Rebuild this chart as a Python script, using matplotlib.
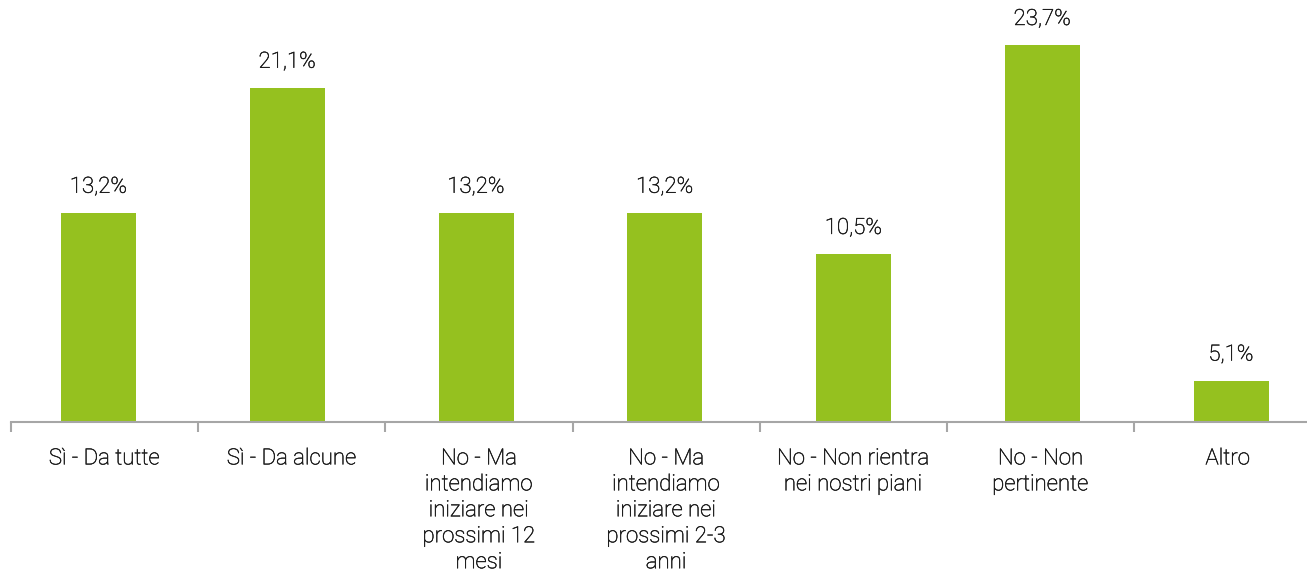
import matplotlib
matplotlib.use("Agg")
import matplotlib.pyplot as plt
import matplotlib.patheffects as pe

categories = [
    "Sì - Da tutte",
    "Sì - Da alcune",
    "No - Ma\nintendiamo\niniziare nei\nprossimi 12\nmesi",
    "No - Ma\nintendiamo\niniziare nei\nprossimi 2-3\nanni",
    "No - Non rientra\nnei nostri piani",
    "No - Non\npertinente",
    "Altro",
]
# bar heights as drawn in the picture (the "Altro" bar is drawn shorter than its label)
bar_values = [13.2, 21.1, 13.2, 13.2, 10.6, 23.8, 2.6]
value_labels = ["13,2%", "21,1%", "13,2%", "13,2%", "10,5%", "23,7%", "5,1%"]

plt.rcParams['font.family'] = ['Roboto', 'DejaVu Sans']
W, H = 1307, 577
fig = plt.figure(figsize=(W / 100, H / 100), dpi=100)

bar_step = 188.75      # px between bar centres
tick_step = 187.2      # px between category boundary ticks
x0_px = 11             # axis start
first_center_px = 98.5
px_per_unit = 15.83
ymax = 26.0

left_unit = (x0_px - first_center_px) / bar_step
right_unit = left_unit + (W - x0_px) / bar_step

ax = fig.add_axes([x0_px / W, (H - 422) / H, (W - x0_px) / W, ymax * px_per_unit / H])

green = "#95C11F"
text_color = "#1a1a1a"
effects = [pe.withStroke(linewidth=0.35, foreground=text_color)]
n = len(categories)
x = list(range(n))
ax.bar(x, bar_values, width=75 / bar_step, color=green, zorder=2)

for xi, v, lab in zip(x, bar_values, value_labels):
    ax.annotate(lab, (xi, v), xytext=(0, 11), textcoords="offset points",
                ha="center", va="bottom", fontsize=16, color=text_color,
                fontweight="light", path_effects=effects)

for s in ["top", "right", "left"]:
    ax.spines[s].set_visible(False)
ax.spines["bottom"].set_color("#A6A6A6")
ax.spines["bottom"].set_linewidth(1.5)
ax.set_yticks([])

r = tick_step / bar_step
bounds = [left_unit + k * r for k in range(n)]
mids = [b + r / 2 for b in bounds]
ax.set_xticks(bounds, minor=True)
ax.set_xticks(mids)
ax.set_xticklabels(categories, fontsize=16, color=text_color,
                   fontweight="light", linespacing=1.31, va="top")
for t in ax.get_xticklabels():
    t.set_path_effects(effects)
ax.tick_params(axis="x", which="major", length=0, pad=19)
ax.tick_params(axis="x", which="minor", length=7, width=1.5, color="#A6A6A6")

# set limits last so tick setting does not expand them
ax.set_xlim(left_unit, right_unit)
ax.set_ylim(0, ymax)

fig.savefig("out.png", dpi=100)
